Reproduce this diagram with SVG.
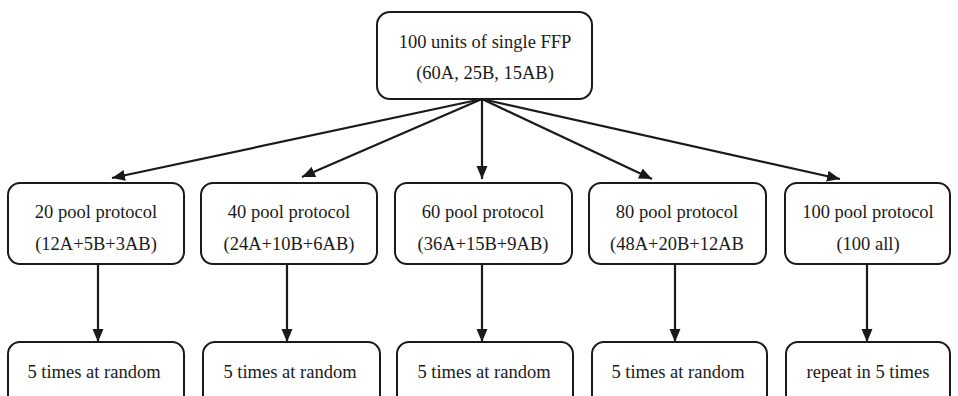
<svg xmlns="http://www.w3.org/2000/svg" width="958" height="396" viewBox="0 0 958 396">
<style>
.box{fill:#fff;stroke:#1a1a1a;stroke-width:2}
text{font-family:"Liberation Serif","Times New Roman",serif;font-size:18.5px;fill:#1a1a1a;text-anchor:middle}
.c{stroke:#1a1a1a;stroke-width:2.2;fill:none;marker-end:url(#ah)}
</style>
<defs>
<marker id="ah" markerUnits="userSpaceOnUse" markerWidth="14" markerHeight="12" refX="13" refY="5.5" orient="auto">
<path d="M0,0 L13,5.5 L0,11 Z" fill="#1a1a1a"/>
</marker>
</defs>
<rect width="958" height="396" fill="#fff"/>
<g id="connectors">
<line class="c" x1="482" y1="99" x2="112" y2="178"/>
<line class="c" x1="482" y1="99" x2="302" y2="177"/>
<line class="c" x1="482" y1="99" x2="482" y2="179"/>
<line class="c" x1="482" y1="99" x2="652" y2="179"/>
<line class="c" x1="482" y1="99" x2="840" y2="179"/>
<line class="c" x1="98" y1="264" x2="98" y2="342"/>
<line class="c" x1="287" y1="264" x2="287" y2="342"/>
<line class="c" x1="482" y1="264" x2="482" y2="342"/>
<line class="c" x1="675" y1="264" x2="675" y2="342"/>
<line class="c" x1="867" y1="264" x2="867" y2="342"/>
</g>
<g id="top"><rect class="box" x="377" y="12" width="215" height="87" rx="13"/><text x="485" y="48">100 units of single FFP</text><text x="485" y="79">(60A, 25B, 15AB)</text></g>
<g id="p20"><rect class="box" x="8" y="183" width="176" height="81" rx="12"/><text x="96" y="218">20 pool protocol</text><text x="96" y="250">(12A+5B+3AB)</text></g>
<g id="p40"><rect class="box" x="201" y="183" width="176" height="81" rx="12"/><text x="289" y="218">40 pool protocol</text><text x="289" y="250">(24A+10B+6AB)</text></g>
<g id="p60"><rect class="box" x="395" y="183" width="177" height="81" rx="12"/><text x="483" y="218">60 pool protocol</text><text x="483" y="250">(36A+15B+9AB)</text></g>
<g id="p80"><rect class="box" x="589" y="183" width="177" height="81" rx="12"/><text x="677" y="218">80 pool protocol</text><text x="677" y="250">(48A+20B+12AB</text></g>
<g id="p100"><rect class="box" x="785" y="183" width="165" height="81" rx="12"/><text x="868" y="218">100 pool protocol</text><text x="868" y="250">(100 all)</text></g>
<g id="r20"><rect class="box" x="8" y="342" width="176" height="70" rx="12"/><text x="94" y="378">5 times at random</text></g>
<g id="r40"><rect class="box" x="203" y="342" width="177" height="70" rx="12"/><text x="290" y="378">5 times at random</text></g>
<g id="r60"><rect class="box" x="397" y="342" width="176" height="70" rx="12"/><text x="484" y="378">5 times at random</text></g>
<g id="r80"><rect class="box" x="592" y="342" width="175" height="70" rx="12"/><text x="678" y="378">5 times at random</text></g>
<g id="r100"><rect class="box" x="786" y="342" width="164" height="70" rx="12"/><text x="868" y="378">repeat in 5 times</text></g>
</svg>
